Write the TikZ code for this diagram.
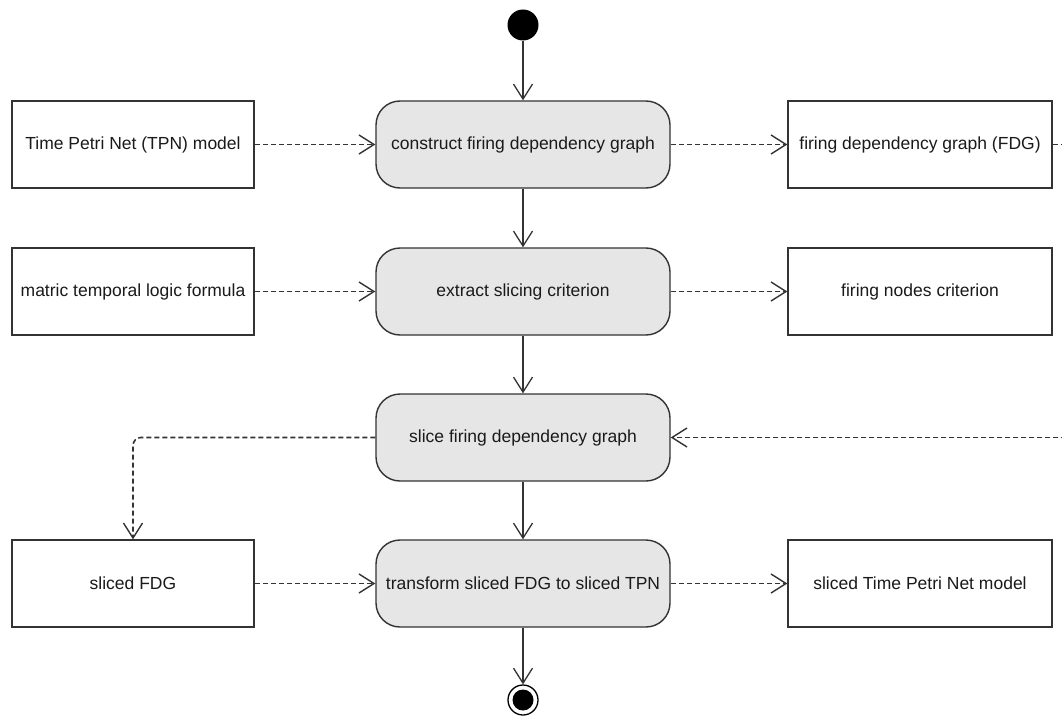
\documentclass[tikz,border=0pt]{standalone}
\usepackage{fontspec}
\setmainfont{Liberation Sans}
\usetikzlibrary{arrows.meta}
\definecolor{linec}{HTML}{333333}
\definecolor{actfill}{HTML}{E6E6E6}
\definecolor{txt}{HTML}{1A1A1A}
\begin{document}
\begin{tikzpicture}[x=1pt,y=-1pt,
  every node/.style={font=\fontsize{17.5}{20}\selectfont, text=txt},
  action/.style={draw=linec, line width=1.4pt, fill=actfill, rounded corners=24pt,
    minimum width=294pt, minimum height=87pt, inner sep=0pt},
  artifact/.style={draw=linec, line width=1.3pt, fill=white,
    minimum height=87pt, inner sep=0pt},
  flow/.style={draw=linec, line width=1.3pt, -{Straight Barb[length=15pt,width=19pt,line width=1.3pt]}},
  dataflow/.style={draw=linec, line width=1.6pt, dash pattern=on 5pt off 3pt,
    -{Straight Barb[length=15pt,width=19pt,line width=1.4pt]}}
]
\useasboundingbox (0,0) rectangle (1062,717);
\fill[white] (0,0) rectangle (1062,717);

% start
\node[circle, fill=black, minimum size=31pt, inner sep=0pt] (start) at (523,25) {};

% actions
\node[action] (construct) at (523,144.5) {construct firing dependency graph};
\node[action] (extract)   at (523,291.5) {extract slicing criterion};
\node[action] (slice)     at (523,437.5) {slice firing dependency graph};
\node[action] (transform) at (523,583.5) {transform sliced FDG to sliced TPN};

% artifacts left
\node[artifact, minimum width=242pt] (tpn)   at (133,144.5) {Time Petri Net (TPN) model};
\node[artifact, minimum width=242pt] (mtl)   at (133,291.5) {matric temporal logic formula};
\node[artifact, minimum width=242pt] (sfdg)  at (133,583.5) {sliced FDG};
% artifacts right
\node[artifact, minimum width=264pt] (fdg)   at (920,144.5) {firing dependency graph (FDG)};
\node[artifact, minimum width=264pt] (fnc)   at (920,291.5) {firing nodes criterion};
\node[artifact, minimum width=264pt] (stpn)  at (920,583.5) {sliced Time Petri Net model};

% end
\node[circle, draw=black, line width=1.3pt, fill=white, minimum size=30pt, inner sep=0pt] (end) at (523,700) {};
\node[circle, fill=black, minimum size=21pt, inner sep=0pt] (endin) at (523,700) {};

% control flow
\draw[flow] (start) -- (construct);
\draw[flow] (construct) -- (extract);
\draw[flow] (extract) -- (slice);
\draw[flow] (slice) -- (transform);
\draw[flow] (transform) -- (end);

% object flow
\draw[dataflow] (tpn) -- (construct);
\draw[dataflow] (construct) -- (fdg);
\draw[dataflow] (mtl) -- (extract);
\draw[dataflow] (extract) -- (fnc);
\draw[dataflow] (sfdg) -- (transform);
\draw[dataflow] (transform) -- (stpn);
\draw[dataflow, rounded corners=8pt] (slice.west) -| (sfdg.north);
\coordinate (loop) at (1085,144.5);
\draw[dataflow] (fdg.east) -- (loop) |- (slice.east);
\end{tikzpicture}
\end{document}
